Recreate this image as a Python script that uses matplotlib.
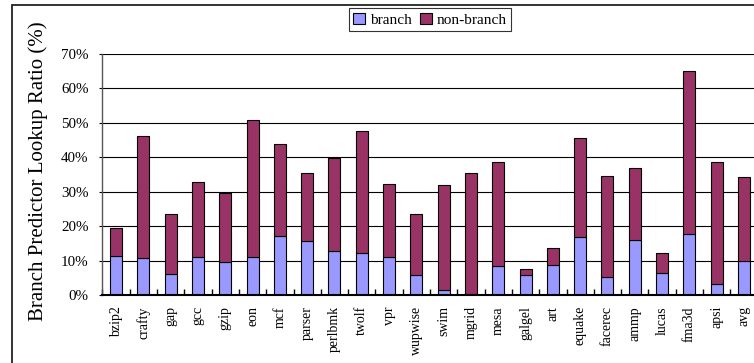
import matplotlib
matplotlib.use("Agg")
import matplotlib.pyplot as plt
import matplotlib.patches as mpatches
import numpy as np

plt.rcParams['font.family'] = ['Liberation Serif', 'DejaVu Serif']

benchmarks = ["bzip2", "crafty", "gap", "gcc", "gzip", "eon", "mcf", "parser",
              "perlbmk", "twolf", "vpr", "wupwise", "swim", "mgrid", "mesa",
              "galgel", "art", "equake", "facerec", "ammp", "lucas", "fma3d",
              "apsi", "avg"]
# lookup ratios in percent
branch = [11.4, 10.8, 6.2, 10.9, 9.5, 10.9, 17.1, 15.7, 12.7, 12.1, 10.9, 5.8,
          1.45, 0.2, 8.5, 5.8, 8.8, 16.8, 5.1, 15.9, 6.5, 17.6, 3.3, 9.8]
total = [19.4, 46.2, 23.6, 32.7, 29.7, 50.7, 43.8, 35.4, 39.9, 47.6, 32.3, 23.4,
         31.9, 35.4, 38.5, 7.5, 13.7, 45.5, 34.6, 36.8, 12.2, 65.1, 38.5, 34.2]
non_branch = [t - b for t, b in zip(total, branch)]
yticks = [0, 10, 20, 30, 40, 50, 60, 70]

fig = plt.figure(figsize=(7.54, 3.63), dpi=100)
ax = fig.add_axes([102.4 / 754, 1 - 295 / 363, 655.2 / 754, 241 / 363])

x = np.arange(len(benchmarks))
c_branch = "#9999FF"
c_non = "#993366"
ax.bar(x, branch, width=0.44, color=c_branch, edgecolor="black", linewidth=0.8,
       label="branch", zorder=3)
ax.bar(x, non_branch, width=0.44, bottom=branch, color=c_non, edgecolor="black",
       linewidth=0.8, label="non-branch", zorder=3)

ax.set_xlim(-0.5, len(benchmarks) - 0.5)
ax.set_ylim(0, 70)
ax.set_yticks(yticks)
ax.set_yticklabels([f"{v}%" for v in yticks], fontsize=10.8)
ax.yaxis.grid(True, color="black", linewidth=0.8, zorder=0)
ax.set_axisbelow(True)

ax.set_xticks(x)
ax.set_xticklabels(benchmarks, rotation=90, fontsize=10)
ax.set_xticks(np.arange(-0.5, len(benchmarks), 1.0), minor=True)
ax.tick_params(axis="x", which="major", length=0, pad=8)
ax.tick_params(axis="x", which="minor", bottom=True, direction="in",
               length=4, width=1.0, color="black")
ax.tick_params(axis="y", length=2, width=0.8, pad=8)

for side in ("top", "right"):
    ax.spines[side].set_visible(False)
ax.spines["left"].set_color("#555555")
ax.spines["left"].set_linewidth(1.0)
ax.spines["bottom"].set_linewidth(1.5)
ax.spines["bottom"].set_zorder(4)

ax.set_ylabel("Branch Predictor Lookup Ratio (%)", fontsize=15)
ax.yaxis.set_label_coords(-0.083, 0.512)

leg = fig.legend(loc="upper center", bbox_to_anchor=(430 / 754, 1 - 8 / 363),
                 ncol=2, fontsize=11, frameon=True, fancybox=False,
                 handlelength=0.75, handleheight=0.75, handletextpad=0.3,
                 columnspacing=0.6, borderpad=0.3, borderaxespad=0)
leg.get_frame().set_edgecolor("black")
leg.get_frame().set_linewidth(0.8)

# outer chart frame
frame = mpatches.Rectangle((12 / 754, -0.2), 2.0, 1.2 - 5 / 363,
                           transform=fig.transFigure, fill=False,
                           edgecolor="#222222", linewidth=1.3)
fig.patches.append(frame)

fig.savefig("out.png", dpi=100)
